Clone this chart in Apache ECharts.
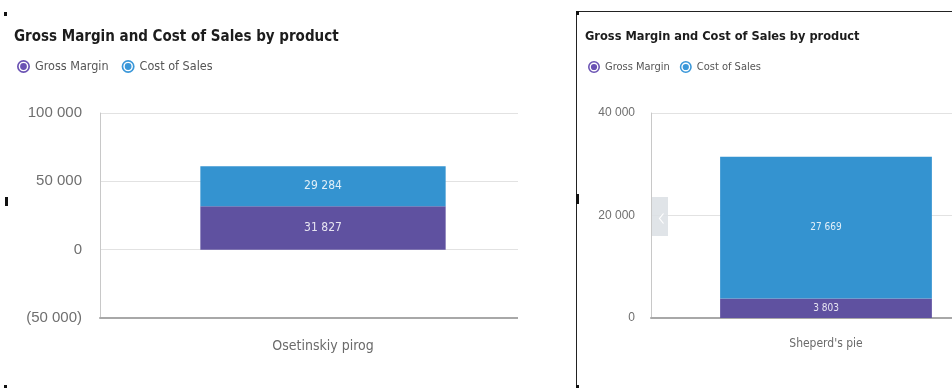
<!DOCTYPE html>
<html>
<head>
<meta charset="utf-8">
<script src="https://cdn.jsdelivr.net/npm/echarts@6/dist/echarts.min.js"></script>
<style>
  html, body { margin: 0; padding: 0; background: #fff; width: 952px; height: 388px; overflow: hidden; }
  .clip { position: absolute; overflow: hidden; }
  #leftClip { left: 0; top: 0; width: 518px; height: 388px; }
  #rightClip { left: 576px; top: 11px; width: 376px; height: 377px; border-left: 1px solid #222; border-top: 1px solid #222; }
  #leftChart { position: absolute; left: 0; top: 0; width: 560px; height: 388px; }
  #rightChart { position: absolute; left: 0; top: 0; width: 440px; height: 377px; }
  .handle { position: absolute; background: #111; }
</style>
</head>
<body>
<div id="leftClip" class="clip"><div id="leftChart"></div></div>
<div id="rightClip" class="clip"><div id="rightChart"></div></div>
<div class="handle" style="left:4px;top:12px;width:3px;height:4px"></div>
<div class="handle" style="left:5px;top:197px;width:3px;height:9px"></div>
<div class="handle" style="left:4px;top:385px;width:3px;height:3px"></div>
<div class="handle" style="left:576px;top:11px;width:3px;height:4px"></div>
<div class="handle" style="left:576px;top:194px;width:3px;height:10px"></div>
<div class="handle" style="left:576px;top:385px;width:3px;height:3px"></div>
<script>
// Panel 1
const productsLeft = ['Osetinskiy pirog'];
const grossMarginLeft = [31827];
const costOfSalesLeft = [29284];
const yTicksLeft = [-50000, 0, 50000, 100000];

// Panel 2
const productsRight = ["Sheperd's pie"];
const grossMarginRight = [3803];
const costOfSalesRight = [27669];
const yTicksRight = [0, 20000, 40000];

const seriesNames = ['Gross Margin', 'Cost of Sales'];
const TITLE = 'Gross Margin and Cost of Sales by product';

const PURPLE = '#5f51a0';
const BLUE = '#3493d0';
const NARROW = "'DejaVu Sans Condensed', 'Liberation Sans Narrow', 'Roboto', sans-serif";
const SANS = "'Liberation Sans', Arial, sans-serif";

// ring-and-dot legend marker
const RING = 'path://M0,-10A10,10 0 1,1 0,10A10,10 0 1,1 0,-10Z' +
             'M0,-7.4A7.4,7.4 0 1,0 0,7.4A7.4,7.4 0 1,0 0,-7.4Z' +
             'M0,-5.2A5.2,5.2 0 1,1 0,5.2A5.2,5.2 0 1,1 0,-5.2Z';

function fmt(v) {
  const s = Math.abs(v).toString().replace(/\B(?=(\d{3})+(?!\d))/g, ' ');
  return v < 0 ? '(' + s + ')' : s;
}

function buildOption(cfg) {
  const ticks = cfg.ticks;
  const interval = ticks[1] - ticks[0];
  return {
    animation: false,
    title: {
      text: TITLE,
      left: cfg.titleLeft, top: cfg.titleTop,
      textStyle: { fontFamily: NARROW, fontWeight: 'bold', fontSize: cfg.titleSize, color: '#1c1c1c' }
    },
    legend: {
      data: seriesNames.map((n, i) => ({ name: n, itemStyle: { color: i ? '#3a97d9' : '#6a52b3' } })),
      icon: RING,
      left: cfg.legendLeft, top: cfg.legendTop,
      itemWidth: cfg.legendIcon, itemHeight: cfg.legendIcon, itemGap: cfg.legendGap,
      textStyle: { fontFamily: NARROW, fontSize: cfg.legendSize, color: '#555' }
    },
    grid: { left: cfg.gridLeft, right: cfg.gridRight, top: cfg.gridTop, height: cfg.gridHeight },
    xAxis: {
      type: 'category',
      data: cfg.products,
      axisLine: { onZero: false, lineStyle: { color: '#a8a8a8', width: 2 } },
      axisTick: { show: false },
      axisLabel: { color: '#6a6a6a', fontFamily: NARROW, fontSize: cfg.xLabelSize, margin: cfg.xLabelMargin }
    },
    yAxis: {
      type: 'value',
      min: ticks[0], max: ticks[ticks.length - 1], interval: interval,
      axisLine: { show: true, lineStyle: { color: '#c8c8c8', width: 1 } },
      axisTick: { show: false },
      splitLine: { lineStyle: { color: '#e2e2e2', width: 1 } },
      axisLabel: { color: '#6f6f6f', fontFamily: SANS, fontSize: cfg.yLabelSize, margin: cfg.yLabelMargin, formatter: fmt }
    },
    series: [
      { name: seriesNames[0], data: cfg.gm, color: PURPLE },
      { name: seriesNames[1], data: cfg.cs, color: BLUE }
    ].map(s => ({
      name: s.name, type: 'bar', stack: 'total', data: s.data, barWidth: cfg.barWidth,
      itemStyle: { color: s.color },
      label: {
        show: true, position: 'inside', formatter: p => fmt(p.value),
        color: 'rgba(255,255,255,0.85)', fontFamily: NARROW, fontSize: cfg.barLabelSize
      }
    })),
    graphic: cfg.graphic || []
  };
}

const leftChart = echarts.init(document.getElementById('leftChart'), null, { renderer: 'canvas' });
leftChart.setOption(buildOption({
  products: productsLeft, gm: grossMarginLeft, cs: costOfSalesLeft, ticks: yTicksLeft,
  titleLeft: 9, titleTop: 25, titleSize: 15,
  legendLeft: 12, legendTop: 55, legendIcon: 13, legendGap: 13, legendSize: 12.5,
  gridLeft: 100, gridRight: 14, gridTop: 113, gridHeight: 205,
  xLabelSize: 14, xLabelMargin: 21, yLabelSize: 15, yLabelMargin: 18,
  barWidth: '55%', barLabelSize: 12
}));

const rightChart = echarts.init(document.getElementById('rightChart'), null, { renderer: 'canvas' });
rightChart.setOption(buildOption({
  products: productsRight, gm: grossMarginRight, cs: costOfSalesRight, ticks: yTicksRight,
  titleLeft: 3, titleTop: 13, titleSize: 12.7,
  legendLeft: 6, legendTop: 44, legendIcon: 12, legendGap: 10, legendSize: 11,
  gridLeft: 74, gridRight: 16, gridTop: 101, gridHeight: 205,
  xLabelSize: 12, xLabelMargin: 20, yLabelSize: 12, yLabelMargin: 16,
  barWidth: '60.5%', barLabelSize: 10,
  graphic: [
    { type: 'rect', left: 75, top: 185, shape: { width: 16, height: 39 }, style: { fill: 'rgba(221,225,230,0.9)' }, z: 100 },
    { type: 'polyline', left: 80, top: 199, shape: { points: [[4, 0], [0, 5], [4, 10]] }, style: { stroke: '#fff', lineWidth: 1.2, fill: null }, z: 101 }
  ]
}));
</script>
</body>
</html>
